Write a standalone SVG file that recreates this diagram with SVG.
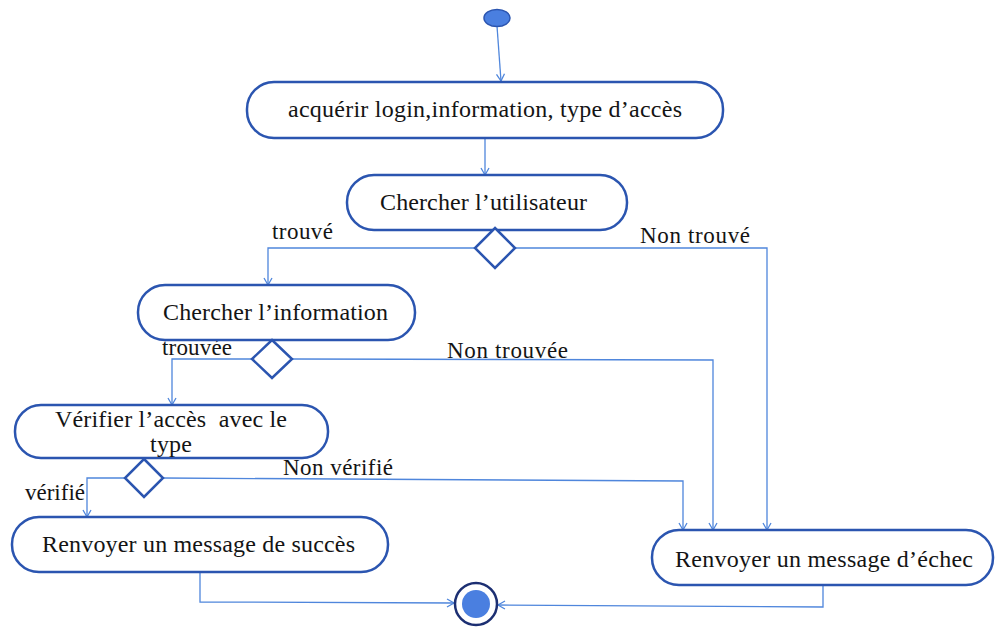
<svg xmlns="http://www.w3.org/2000/svg" width="995" height="629" viewBox="0 0 995 629">
  <style>
    .act { fill: #ffffff; stroke: #2b55b0; stroke-width: 2.5; }
    .dec { fill: #ffffff; stroke: #2b55b0; stroke-width: 2.5; }
    .flow { fill: none; stroke: #4f86dc; stroke-width: 1.3; }
    .lbl { font-family: "Liberation Serif", "Times New Roman", serif; font-size: 24px; fill: #141414; }
    .grd { font-family: "Liberation Serif", "Times New Roman", serif; font-size: 23px; fill: #141414; }
  </style>
  <defs>
    <marker id="arr" markerWidth="10" markerHeight="10" refX="8" refY="5" orient="auto" markerUnits="userSpaceOnUse">
      <path d="M1,1 L8,5 L1,9" fill="none" stroke="#4f86dc" stroke-width="1.3"/>
    </marker>
  </defs>
  <rect width="995" height="629" fill="#ffffff"/>

  <!-- transitions -->
  <g id="connectors">
    <path class="flow" d="M497,26 L501,81" marker-end="url(#arr)"/>
    <path class="flow" d="M485,138 L485,175" marker-end="url(#arr)"/>
    <path class="flow" d="M475,248 L268,248 L268,285" marker-end="url(#arr)"/>
    <path class="flow" d="M515,248 L767,248 L767,530" marker-end="url(#arr)"/>
    <path class="flow" d="M252,359 L172,359 L172,405" marker-end="url(#arr)"/>
    <path class="flow" d="M292,359 L713,360 L713,530" marker-end="url(#arr)"/>
    <path class="flow" d="M125,478 L87,478 L87,517" marker-end="url(#arr)"/>
    <path class="flow" d="M163,478 L683,481 L683,530" marker-end="url(#arr)"/>
    <path class="flow" d="M200,572 L200,602 L454,603" marker-end="url(#arr)"/>
    <path class="flow" d="M823,585 L823,607 L498,605" marker-end="url(#arr)"/>
  </g>

  <!-- guard labels -->
  <g id="guards">
    <text class="grd" x="272" y="239" textLength="61">trouvé</text>
    <text class="grd" x="640" y="243" textLength="110">Non trouvé</text>
    <text class="grd" x="162" y="355" textLength="70">trouvée</text>
    <text class="grd" x="447" y="358" textLength="121">Non trouvée</text>
    <text class="grd" x="25" y="500" textLength="60">vérifié</text>
    <text class="grd" x="283" y="475" textLength="110">Non vérifié</text>
  </g>

  <g id="start">
    <ellipse cx="497" cy="18" rx="13" ry="8.5" fill="#4a7fe0" stroke="#2b55b0" stroke-width="1.5"/>
  </g>

  <g id="acquerir">
    <rect class="act" x="247" y="82" width="476" height="56" rx="27"/>
    <text class="lbl" x="288" y="117" textLength="394">acquérir login,information, type d’accès</text>
  </g>

  <g id="chercher-utilisateur">
    <rect class="act" x="347" y="175" width="280" height="55" rx="27"/>
    <text class="lbl" x="380" y="210" textLength="207">Chercher l’utilisateur</text>
  </g>

  <g id="decision-utilisateur">
    <polygon class="dec" points="495,228 515,248 495,268 475,248"/>
  </g>

  <g id="chercher-information">
    <rect class="act" x="138" y="285" width="277" height="55" rx="27"/>
    <text class="lbl" x="163" y="320" textLength="225">Chercher l’information</text>
  </g>

  <g id="decision-information">
    <polygon class="dec" points="272,340 292,359 272,378 252,359"/>
  </g>

  <g id="verifier-acces">
    <rect class="act" x="15" y="405" width="313" height="53" rx="26"/>
    <text class="lbl" x="55" y="427" textLength="232" xml:space="preserve">Vérifier l’accès  avec le</text>
    <text class="lbl" x="150" y="452" textLength="42">type</text>
  </g>

  <g id="decision-acces">
    <polygon class="dec" points="144,459 163,478 144,497 125,478"/>
  </g>

  <g id="message-succes">
    <rect class="act" x="12" y="517" width="376" height="55" rx="27"/>
    <text class="lbl" x="42" y="552" textLength="313">Renvoyer un message de succès</text>
  </g>

  <g id="message-echec">
    <rect class="act" x="652" y="530" width="341" height="55" rx="27"/>
    <text class="lbl" x="675" y="567" textLength="298">Renvoyer un message d’échec</text>
  </g>

  <g id="end">
    <circle cx="476" cy="604" r="21" fill="#ffffff" stroke="#1c2f72" stroke-width="2.5"/>
    <circle cx="476" cy="604" r="14" fill="#4a7fe0"/>
  </g>
</svg>
